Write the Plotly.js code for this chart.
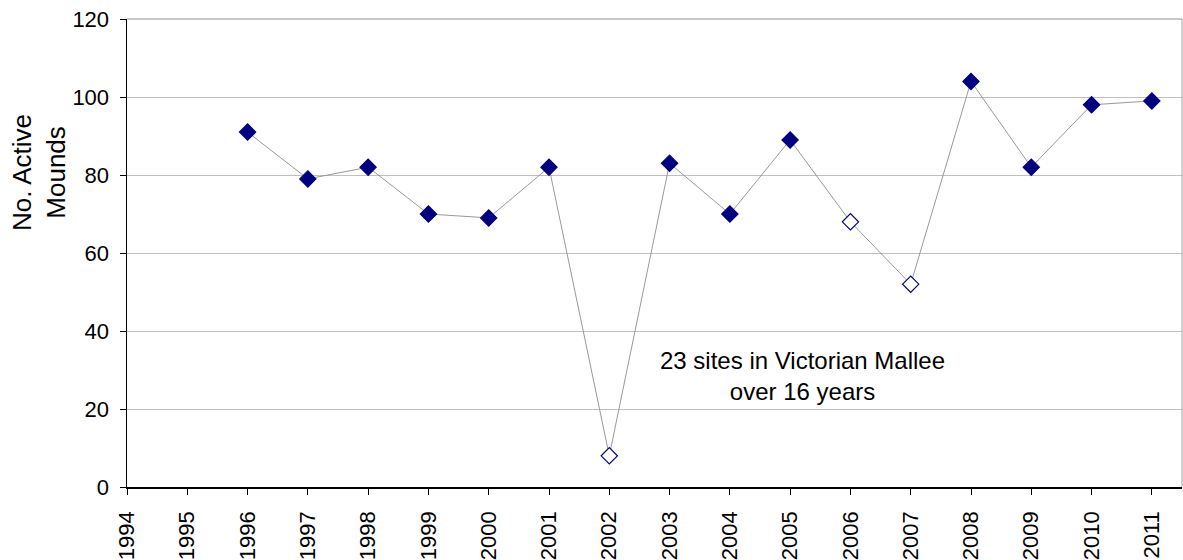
<!DOCTYPE html>
<html>
<head>
<meta charset="utf-8">
<script src="https://cdn.plot.ly/plotly-3.0.1.min.js"></script>
<style>html,body{margin:0;padding:0;background:#fff;}#chart{width:1183px;height:560px;}</style>
</head>
<body>
<div id="chart"></div>
<script>
const years = [1996, 1997, 1998, 1999, 2000, 2001, 2002, 2003, 2004, 2005, 2006, 2007, 2008, 2009, 2010, 2011];
const activeMounds = [91, 79, 82, 70, 69, 82, 8, 83, 70, 89, 68, 52, 104, 82, 98, 99];
const solidMarker = [true, true, true, true, true, true, false, true, true, true, false, false, true, true, true, true];
const xTickYears = [1994, 1995, 1996, 1997, 1998, 1999, 2000, 2001, 2002, 2003, 2004, 2005, 2006, 2007, 2008, 2009, 2010, 2011];
const yTicks = [0, 20, 40, 60, 80, 100, 120];
const noteText = '23 sites in Victorian Mallee<br>over 16 years';
const yTitle = 'No. Active<br>Mounds';

const navy = '#000080';
const font = 'Liberation Sans, Arial, sans-serif';

const trace = {
  x: years,
  y: activeMounds,
  type: 'scatter',
  mode: 'lines+markers',
  line: {color: '#999999', width: 1},
  marker: {
    symbol: 'diamond',
    size: 12.5,
    color: solidMarker.map(s => s ? navy : '#ffffff'),
    line: {color: navy, width: 1.2}
  },
  hoverinfo: 'x+y'
};

const layout = {
  width: 1183,
  height: 560,
  margin: {l: 127, r: 1, t: 19, b: 73},
  paper_bgcolor: '#ffffff',
  plot_bgcolor: '#ffffff',
  showlegend: false,
  font: {family: font, color: '#000', size: 22},
  xaxis: {
    range: [1994, 2011.5],
    tickmode: 'array',
    tickvals: xTickYears,
    ticktext: xTickYears.map(String),
    tickangle: -90,
    ticks: 'outside',
    ticklen: 6,
    tickcolor: '#000',
    tickwidth: 1,
    ticklabelstandoff: 8,
    showline: true,
    linecolor: '#000',
    linewidth: 1.5,
    showgrid: false,
    zeroline: false,
    tickfont: {family: font, size: 22, color: '#000'}
  },
  yaxis: {
    range: [0, 120],
    tickmode: 'array',
    tickvals: yTicks,
    ticktext: yTicks.map(String),
    ticks: 'outside',
    ticklen: 6,
    tickcolor: '#000',
    tickwidth: 1,
    ticklabelstandoff: 6,
    showline: true,
    linecolor: '#000',
    linewidth: 1.5,
    showgrid: true,
    gridcolor: '#c0c0c0',
    gridwidth: 1,
    zeroline: false,
    tickfont: {family: font, size: 22, color: '#000'}
  },
  shapes: [
    {type: 'line', xref: 'paper', yref: 'paper', x0: 1, x1: 1, y0: 0, y1: 1, line: {color: '#a0a0a0', width: 1}},
    {type: 'line', xref: 'paper', yref: 'paper', x0: 0, x1: 1, y0: 1, y1: 1, line: {color: '#909090', width: 1}}
  ],
  annotations: [
    {
      text: noteText,
      x: 2005.2, y: 28.5, xref: 'x', yref: 'y',
      showarrow: false,
      font: {family: font, size: 24, color: '#000'},
      align: 'center'
    },
    {
      text: yTitle,
      xref: 'paper', yref: 'paper',
      x: 0, y: 0.671,
      xanchor: 'center', yanchor: 'middle',
      xshift: -88,
      textangle: -90,
      showarrow: false,
      font: {family: font, size: 26, color: '#000'},
      align: 'center'
    }
  ]
};

Plotly.newPlot('chart', [trace], layout, {displayModeBar: false, staticPlot: true});
</script>
</body>
</html>
